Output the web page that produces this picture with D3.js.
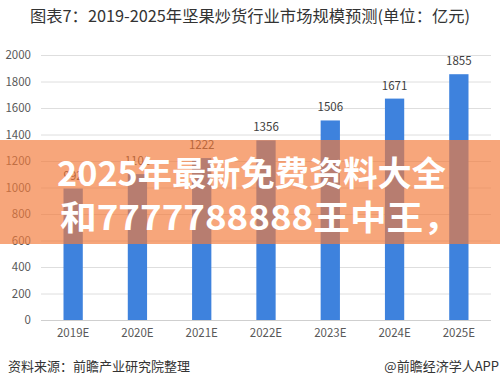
<!DOCTYPE html>
<html>
<head>
<meta charset="utf-8">
<script src="https://cdn.jsdelivr.net/npm/d3@7"></script>
<style>
  body { margin: 0; background: #fff; }
  svg { display: block; font-family: "Noto Sans CJK SC", "Noto Sans", sans-serif; }
</style>
</head>
<body>
<svg></svg>
<script>
// Chart data
const years = ["2019E", "2020E", "2021E", "2022E", "2023E", "2024E", "2025E"];
const values = [992, 1101, 1222, 1356, 1506, 1671, 1855];
const yTicks = [0, 200, 400, 600, 800, 1000, 1200, 1400, 1600, 1800, 2000];

const width = 500;
const height = 386;

const svg = d3.select("svg").attr("width", width).attr("height", height);

svg.append("rect").attr("width", width).attr("height", height).attr("fill", "#fff");

// Title
svg.append("text")
  .attr("x", 250)
  .attr("y", 22)
  .attr("text-anchor", "middle")
  .attr("font-size", 16)
  .attr("fill", "#333")
  .attr("textLength", 440)
  .attr("lengthAdjust", "spacingAndGlyphs")
  .text("图表7：2019-2025年坚果炒货行业市场规模预测(单位：亿元)");

// Scales
const x = d3.scaleBand().domain(years).range([41, 491]).paddingInner(0.7).paddingOuter(0.35);
const y = d3.scaleLinear().domain([0, 2000]).range([320, 55]);

// Gridlines
svg.append("g")
  .selectAll("line")
  .data(yTicks)
  .join("line")
  .attr("x1", 41)
  .attr("x2", 491)
  .attr("y1", (d) => y(d) + 0.5)
  .attr("y2", (d) => y(d) + 0.5)
  .attr("stroke", (d) => (d === 0 ? "#cfcfcf" : "#dedede"))
  .attr("stroke-width", 1);

// Y axis labels
const yAxis = svg.append("g")
  .attr("transform", "translate(31,0)")
  .call(d3.axisLeft(y).tickValues(yTicks).tickFormat(d3.format("d")).tickSize(0).tickPadding(0));
yAxis.select(".domain").remove();
yAxis.selectAll("text")
  .attr("font-size", 11.5)
  .attr("fill", "#595959")
  .attr("font-family", "'Noto Sans CJK SC', sans-serif");

// X axis labels
const xAxis = svg.append("g")
  .attr("transform", "translate(0,320)")
  .call(d3.axisBottom(x).tickSize(0).tickPadding(9));
xAxis.select(".domain").remove();
xAxis.selectAll("text")
  .attr("font-size", 11.5)
  .attr("fill", "#595959")
  .attr("font-family", "'Noto Sans CJK SC', sans-serif");

// Bars
svg.append("g")
  .selectAll("rect")
  .data(values)
  .join("rect")
  .attr("x", (d, i) => x(years[i]))
  .attr("y", (d) => y(d))
  .attr("width", x.bandwidth())
  .attr("height", (d) => y(0) - y(d))
  .attr("fill", "#3e82dd");

// Value labels
svg.append("g")
  .selectAll("text")
  .data(values)
  .join("text")
  .attr("x", (d, i) => x(years[i]) + x.bandwidth() / 2)
  .attr("y", (d) => y(d) - 9)
  .attr("text-anchor", "middle")
  .attr("font-size", 11.5)
  .attr("fill", "#404040")
  .text((d) => d);

// Footer
svg.append("text")
  .attr("x", 8)
  .attr("y", 371)
  .attr("font-size", 13)
  .attr("fill", "#333")
  .text("资料来源：前瞻产业研究院整理");

svg.append("text")
  .attr("x", 499)
  .attr("y", 371)
  .attr("text-anchor", "end")
  .attr("font-size", 13)
  .attr("fill", "#333")
  .text("@前瞻经济学人APP");

// Overlay banner
svg.append("rect")
  .attr("x", 0)
  .attr("y", 140)
  .attr("width", width)
  .attr("height", 104)
  .attr("fill", "rgb(243,123,58)")
  .attr("fill-opacity", 0.67);

const banner = svg.append("g")
  .attr("font-size", 34)
  .attr("font-weight", 700)
  .attr("fill", "#fff");

banner.append("text")
  .attr("x", 57)
  .attr("y", 186)
  .attr("textLength", 389)
  .attr("lengthAdjust", "spacingAndGlyphs")
  .text("2025年最新免费资料大全");

banner.append("text")
  .attr("x", 60)
  .attr("y", 230)
  .attr("textLength", 400)
  .attr("lengthAdjust", "spacingAndGlyphs")
  .text("和7777788888王中王，");
</script>
</body>
</html>
